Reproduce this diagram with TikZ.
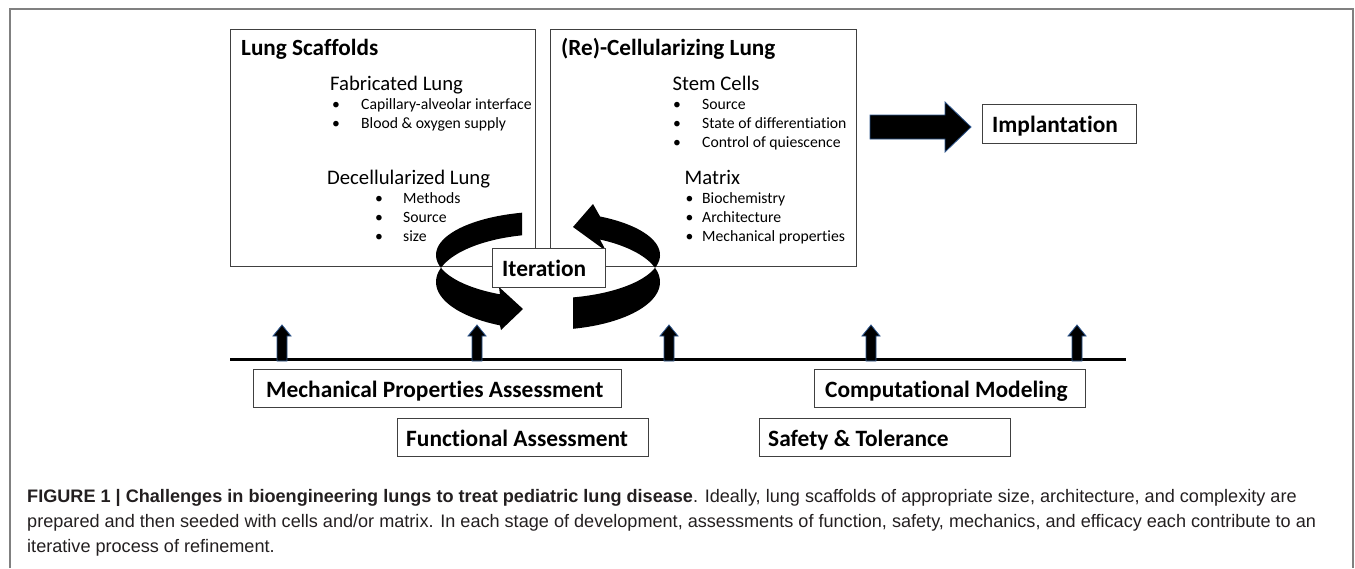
\documentclass[tikz,border=0pt]{standalone}
\usepackage{fontspec}
\newfontfamily\calibri[Ligatures=NoCommon]{Carlito}
\newfontfamily\capfont{Liberation Sans}
\definecolor{boxgray}{RGB}{64,64,64}
\definecolor{framegray}{RGB}{128,128,128}
\definecolor{edgeblue}{RGB}{45,85,140}
\definecolor{captext}{RGB}{35,31,32}
\tikzset{
  panel/.style={draw=boxgray, line width=1.2pt, fill=white, inner sep=0pt, anchor=north west},
  lbl/.style={inner sep=0pt, anchor=base west, text=black},
  head/.style={lbl, font=\calibri\fontsize{20.7}{24}\selectfont},
  headb/.style={lbl, font=\calibri\bfseries\fontsize{23.2}{27}\selectfont},
  item/.style={lbl, font=\calibri\fontsize{15.7}{18}\selectfont},
  boxtxt/.style={lbl, font=\calibri\bfseries\fontsize{23.4}{27}\selectfont},
  captxt/.style={lbl, font=\capfont\fontsize{18.1}{21}\selectfont, text=captext},
  uparrow/.pic={\filldraw[fill=black, draw=edgeblue, line width=0.8pt]
     (-5,0) -- (-5,-25) -- (-9,-25) -- (0,-36) -- (9,-25) -- (5,-25) -- (5,0) -- cycle;},
}
\begin{document}
\begin{tikzpicture}[x=1pt,y=-1pt]
\useasboundingbox (0,0) rectangle (1355,568);
% outer frame
\coordinate (f1) at (10,568); \coordinate (f2) at (10,9);
\coordinate (f3) at (1353,9); \coordinate (f4) at (1353,568);
\draw[framegray, line width=2pt] (f1) -- (f2) -- (f3) -- (f4);

% main panels
\node[panel, minimum width=305pt, minimum height=237pt] (scaf) at (230,29) {};
\node[panel, minimum width=306pt, minimum height=237pt] (cell) at (550,29) {};

% Lung Scaffolds text
\node[headb] (scafT) at (241,55) {Lung Scaffolds};
\node[head] (fab) at (330,90) {Fabricated Lung};
\node[item] (b1) at (332,109.5) {\textbullet};
\node[item] (fab1) at (361,109.5) {Capillary-alveolar interface};
\node[item] (b2) at (332,128.5) {\textbullet};
\node[item] (fab2) at (361,128.5) {Blood \& oxygen supply};
\node[head] (dec) at (327,184) {Decellularized Lung};
\node[item] (b3) at (375,203.5) {\textbullet};
\node[item] (dec1) at (403,203.5) {Methods};
\node[item] (b4) at (375,222.5) {\textbullet};
\node[item] (dec2) at (403,222.5) {Source};
\node[item] (b5) at (375,241.5) {\textbullet};
\node[item] (dec3) at (403,241.5) {size};

% (Re)-Cellularizing text
\node[headb] (cellT) at (561,55) {(Re)-Cellularizing Lung};
\node[head] (stem) at (672.5,90) {Stem Cells};
\node[item] (c1) at (673,109.5) {\textbullet};
\node[item] (stem1) at (702,109.5) {Source};
\node[item] (c2) at (673,128.5) {\textbullet};
\node[item] (stem2) at (702,128.5) {State of differentiation};
\node[item] (c3) at (673,147.5) {\textbullet};
\node[item] (stem3) at (702,147.5) {Control of quiescence};
\node[head] (mat) at (684.5,184) {Matrix};
\node[item] (m1) at (685.5,203.5) {\textbullet};
\node[item] (mat1) at (702,203.5) {Biochemistry};
\node[item] (m2) at (685.5,222.5) {\textbullet};
\node[item] (mat2) at (702,222.5) {Architecture};
\node[item] (m3) at (685.5,241.5) {\textbullet};
\node[item] (mat3) at (702,241.5) {Mechanical properties};

% circular iteration arrows (3D ribbon)
\fill[black]
  plot[domain=256.6:115.4, samples=60, variable=\t] ({548+112*cos(\t)},{255+43.5*sin(\t)})
  -- (499,287) -- (523,309) -- (501,330)
  -- plot[domain=115.4:256.6, samples=60, variable=\t] ({548+112*cos(\t)},{282+48*sin(\t)})
  -- cycle;
\fill[black]
  plot[domain=77.1:-62.3, samples=70, variable=\t] ({548+112*cos(\t)},{255+43.5*sin(\t)})
  -- (593,204) -- (573,227) -- (606,251)
  -- plot[domain=-62.3:77.1, samples=70, variable=\t] ({548+112*cos(\t)},{282+48*sin(\t)})
  -- cycle;

% Iteration box
\node[panel, minimum width=113pt, minimum height=39pt] (iter) at (492,248) {};
\node[boxtxt] (iterT) at (502,276.5) {Iteration};

% big arrow to Implantation
\filldraw[fill=black, draw=edgeblue, line width=0.8pt]
  (870,115) -- (945,115) -- (945,102) -- (971,127) -- (945,152) -- (945,139) -- (870,139) -- cycle;
\node[panel, minimum width=154pt, minimum height=39pt] (impl) at (982,104) {};
\node[boxtxt] (implT) at (992,132.5) {Implantation};

% timeline
\coordinate (tl) at (230,359);
\coordinate (tr) at (1126,359);
\draw[black, line width=3pt] (tl) -- (tr);
\coordinate (a1) at (282,361);
\coordinate (a2) at (477,361);
\coordinate (a3) at (669,361);
\coordinate (a4) at (871,361);
\coordinate (a5) at (1077,361);
\foreach \p in {a1,a2,a3,a4,a5} {\pic at (\p) {uparrow};}

% assessment boxes
\node[panel, minimum width=368pt, minimum height=38pt] (mech) at (253,369) {};
\node[boxtxt] (mechT) at (266,397) {Mechanical Properties Assessment};
\node[panel, minimum width=271pt, minimum height=38pt] (comp) at (814,369) {};
\node[boxtxt] (compT) at (825,397) {Computational Modeling};
\node[panel, minimum width=251.5pt, minimum height=38pt] (func) at (396.5,418) {};
\node[boxtxt] (funcT) at (406,446) {Functional Assessment};
\node[panel, minimum width=251pt, minimum height=38pt] (safe) at (759,418) {};
\node[boxtxt] (safeT) at (768,446) {Safety \& Tolerance};

% caption
\node[captxt] (cap1) at (27,502) {\textbf{FIGURE 1 | Challenges in bioengineering lungs to treat pediatric lung disease}. Ideally, lung scaffolds of appropriate size, architecture, and complexity are};
\node[captxt] (cap2) at (27,527) {prepared and then seeded with cells and/or matrix. In each stage of development, assessments of function, safety, mechanics, and efficacy each contribute to an};
\node[captxt] (cap3) at (27,552) {iterative process of refinement.};
\end{tikzpicture}
\end{document}
